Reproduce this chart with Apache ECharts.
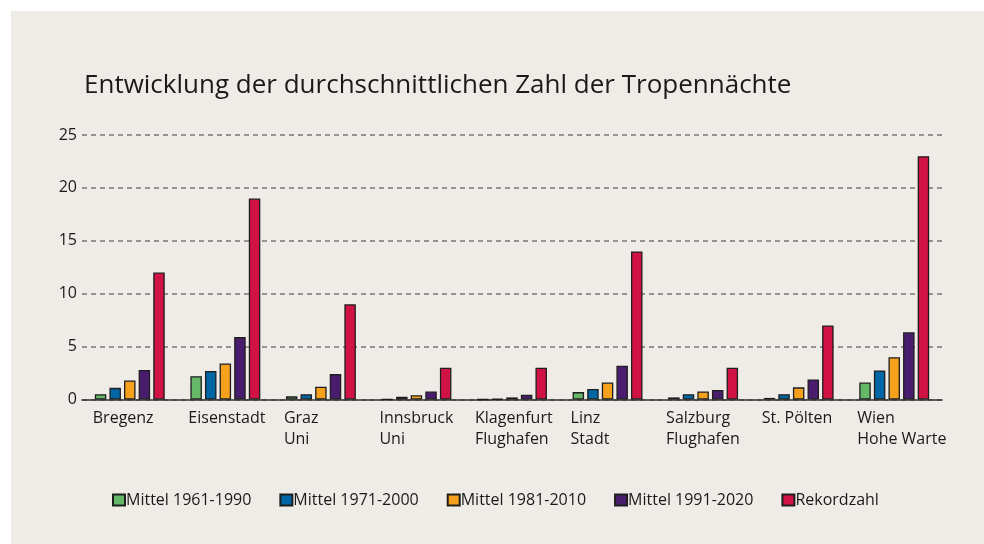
<!DOCTYPE html>
<html>
<head>
<meta charset="utf-8">
<script src="https://cdn.jsdelivr.net/npm/echarts@6/dist/echarts.min.js"></script>
<style>
html,body{margin:0;padding:0;background:#ffffff;}
#wrap{position:absolute;left:11px;top:11px;width:973px;height:533px;background:#efece8;}
#chart{position:absolute;left:0;top:0;width:984px;height:544px;}
</style>
</head>
<body>
<div id="wrap"></div>
<div id="chart"></div>
<script>
const categories = ["Bregenz", "Eisenstadt", "Graz\nUni", "Innsbruck\nUni", "Klagenfurt\nFlughafen", "Linz\nStadt", "Salzburg\nFlughafen", "St. Pölten", "Wien\nHohe Warte"];
const seriesNames = ["Mittel 1961-1990", "Mittel 1971-2000", "Mittel 1981-2010", "Mittel 1991-2020", "Rekordzahl"];
const mittel6190 = [0.5, 2.2, 0.3, 0.03, 0, 0.7, 0.2, 0.15, 1.6];
const mittel7100 = [1.1, 2.7, 0.5, 0.25, 0.05, 1.0, 0.5, 0.5, 2.75];
const mittel8110 = [1.8, 3.4, 1.2, 0.4, 0.2, 1.6, 0.75, 1.15, 4.0];
const mittel9120 = [2.8, 5.9, 2.4, 0.75, 0.45, 3.2, 0.9, 1.9, 6.35];
const rekordzahl = [12, 19, 9, 3, 3, 14, 3, 7, 23];
const yTicks = [0, 5, 10, 15, 20, 25];
const colors = ["#64b868", "#0066a5", "#f5a11c", "#4a1c6e", "#d01245"];

const FONT = "Open Sans";
const chart = echarts.init(document.getElementById('chart'), null, {renderer: 'canvas'});
const allData = [mittel6190, mittel7100, mittel8110, mittel9120, rekordzahl];

const series = allData.map((d, i) => ({
  name: seriesNames[i],
  type: 'bar',
  data: d,
  barWidth: 11.5,
  barGap: '27%',
  itemStyle: {color: colors[i], borderColor: '#1e1e1e', borderWidth: 1.3},
  emphasis: {disabled: true}
}));

chart.setOption({
  animation: false,
  backgroundColor: 'transparent',
  textStyle: {fontFamily: FONT},
  title: {
    text: 'Entwicklung der durchschnittlichen Zahl der Tropennächte',
    left: 79, top: 68,
    textStyle: {fontFamily: FONT, fontSize: 26, fontWeight: 'normal', color: '#1a1a1a'}
  },
  legend: {
    top: 487, left: 107,
    itemWidth: 12, itemHeight: 11, itemGap: 28,
    icon: 'rect',
    data: seriesNames,
    textStyle: {fontFamily: FONT, fontSize: 16, color: '#1a1a1a', padding: [0, 0, 0, -4]}
  },
  grid: {left: 82, right: 42, top: 135, bottom: 144.5, containLabel: false},
  xAxis: {
    type: 'category',
    data: categories,
    axisLine: {lineStyle: {color: '#333', width: 1.5}},
    axisTick: {show: false},
    axisLabel: {
      interval: 0, margin: 8, align: 'center',
      formatter: v => v.split('\n').map(s => '{a|' + s + '}').join('\n'),
      rich: {a: {fontFamily: FONT, fontSize: 16, color: '#1a1a1a', width: 74, align: 'left', lineHeight: 21}}
    }
  },
  yAxis: {
    type: 'value', min: yTicks[0], max: yTicks[yTicks.length - 1], interval: 5,
    axisLine: {show: false}, axisTick: {show: false},
    axisLabel: {fontFamily: FONT, fontSize: 16, color: '#1a1a1a', margin: 5},
    splitLine: {lineStyle: {color: '#777', width: 1.5, type: [5, 4]}}
  },
  series: series
});
</script>
</body>
</html>
